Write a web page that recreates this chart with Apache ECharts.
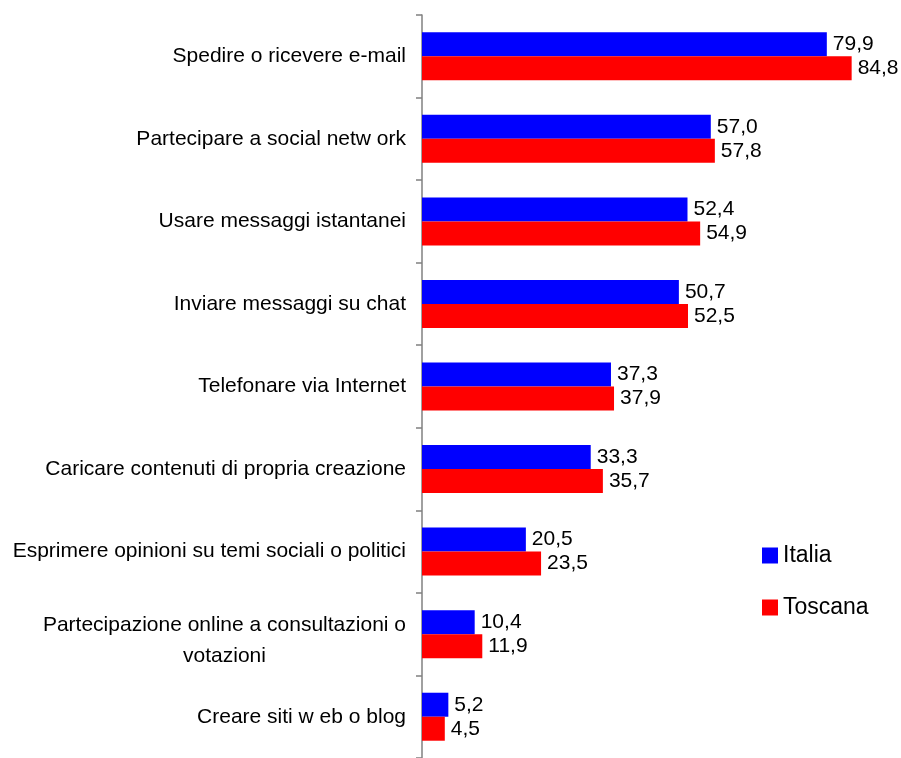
<!DOCTYPE html>
<html><head><meta charset="utf-8">
<script src="https://cdn.jsdelivr.net/npm/echarts@6/dist/echarts.min.js"></script>
<style>html,body{margin:0;padding:0;background:#fff}#c{width:901px;height:758px}</style>
</head><body><div id="c"></div>
<script>
const categories = [
  "Spedire o ricevere e-mail",
  "Partecipare a social netw ork",
  "Usare messaggi istantanei",
  "Inviare messaggi su chat",
  "Telefonare via Internet",
  "Caricare contenuti di propria creazione",
  "Esprimere opinioni su temi sociali o politici",
  "Partecipazione online a consultazioni o\nvotazioni",
  "Creare siti w eb o blog"
];
const italia = [79.9, 57.0, 52.4, 50.7, 37.3, 33.3, 20.5, 10.4, 5.2];
const toscana = [84.8, 57.8, 54.9, 52.5, 37.9, 35.7, 23.5, 11.9, 4.5];

const chart = echarts.init(document.getElementById('c'));
const fmt = p => p.value.toFixed(1).replace('.', ',');
const lbl = {show: true, position: 'right', distance: 6, color: '#000', fontSize: 21, fontFamily: 'Liberation Sans', formatter: fmt};
const catData = categories.map(c => c.indexOf('\n') >= 0 ? {value: c, textStyle: {padding: [13, 0, 0, 0]}} : c);
chart.setOption({
  animation: false,
  textStyle: {fontFamily: 'Liberation Sans'},
  grid: {left: 422, top: 15, width: 456, height: 750, containLabel: false},
  legend: {
    orient: 'vertical', left: 757, top: 539, itemWidth: 16, itemHeight: 16, itemGap: 29,
    icon: 'rect', textStyle: {fontSize: 23, color: '#000', fontFamily: 'Liberation Sans'},
    data: ['Italia', 'Toscana']
  },
  xAxis: {type: 'value', min: 0, max: 90, show: false},
  yAxis: {
    type: 'category', inverse: true, data: catData,
    axisLine: {lineStyle: {color: '#808080', width: 1.5}},
    axisTick: {show: true, length: 6, lineStyle: {color: '#808080', width: 1.5}},
    axisLabel: {
      margin: 16, fontSize: 21, color: '#000', fontFamily: 'Liberation Sans', lineHeight: 31,
      formatter: v => '{c|' + v + '}',
      rich: {c: {align: 'center', fontSize: 21, color: '#000', fontFamily: 'Liberation Sans', lineHeight: 31}}
    }
  },
  series: [
    {name: 'Italia', type: 'bar', data: italia, barWidth: 24, barGap: '0%', itemStyle: {color: '#0000FF'}, label: lbl},
    {name: 'Toscana', type: 'bar', data: toscana, barWidth: 24, barGap: '0%', itemStyle: {color: '#FF0000'}, label: lbl}
  ]
});
</script></body></html>
